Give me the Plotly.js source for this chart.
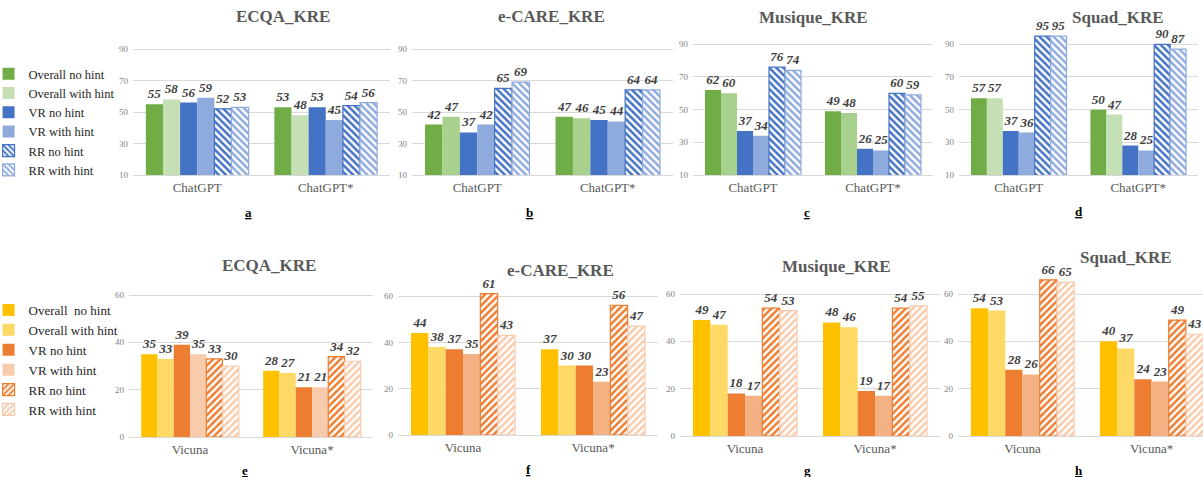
<!DOCTYPE html>
<html><head><meta charset="utf-8">
<script src="https://cdn.plot.ly/plotly-3.0.1.min.js"></script>
<style>html,body{margin:0;padding:0;background:#fff}</style>
</head><body><div id="chart" style="width:1203px;height:477px"></div>
<script>
// ---------- DATA ----------
const seriesChatGPT = ['Overall no hint','Overall with hint','VR no hint','VR with hint','RR no hint','RR with hint'];
const seriesVicuna  = ['Overall  no hint','Overall with hint','VR no hint','VR with hint','RR no hint','RR with hint'];
const catsChatGPT = ['ChatGPT','ChatGPT*'];
const catsVicuna  = ['Vicuna','Vicuna*'];
const titles = ['ECQA_KRE','e-CARE_KRE','Musique_KRE','Squad_KRE'];
const letters = ['a','b','c','d','e','f','g','h'];
// each row: [ChatGPT/Vicuna, ChatGPT*/Vicuna*] for one series
const ecqaChatGPT    = [[55,53],[58,48],[56,53],[59,45],[52,54],[53,56]];
const ecareChatGPT   = [[42,47],[47,46],[37,45],[42,44],[65,64],[69,64]];
const musiqueChatGPT = [[62,49],[60,48],[37,26],[34,25],[76,60],[74,59]];
const squadChatGPT   = [[57,50],[57,47],[37,28],[36,25],[95,90],[95,87]];
const ecqaVicuna     = [[35,28],[33,27],[39,21],[35,21],[33,34],[30,32]];
const ecareVicuna    = [[44,37],[38,30],[37,30],[35,23],[61,56],[43,47]];
const musiqueVicuna  = [[49,48],[47,46],[18,19],[17,17],[54,54],[53,55]];
const squadVicuna    = [[54,40],[53,37],[28,24],[26,23],[66,49],[65,43]];

// ---------- STYLE / LAYOUT ----------
const W = 1203, H = 477;
const SERIF = '"Liberation Serif", "Times New Roman", serif';
const green = ['#70ad47','#c5e0b4','#4472c4','#8faadc','#4472c4','#8faadc'];
const green2 = ['#70ad47','#a9d18e','#4472c4','#8faadc','#4472c4','#8faadc'];
const orange = ['#ffc000','#ffd966','#ed7d31','#f8cbad','#ed7d31','#f8cbad'];
const orange2 = ['#ffc000','#ffd966','#ed7d31','#f4b183','#ed7d31','#f8cbad'];

const panels = [
  {data: ecqaChatGPT,    cats: catsChatGPT, names: seriesChatGPT, x:[133,390], y:[175,25.4], yr:[10,105], t0:10, colors: green,  pat:'\\', title: titles[0], tx:283, ty:17, lx:248, ly:212, legend:'legend'},
  {data: ecareChatGPT,   cats: catsChatGPT, names: seriesChatGPT, x:[412,673], y:[175,25.4], yr:[10,105], t0:10, colors: green2, pat:'\\', title: titles[1], tx:551, ty:17, lx:529, ly:212},
  {data: musiqueChatGPT, cats: catsChatGPT, names: seriesChatGPT, x:[693,933], y:[175,19.8], yr:[10,105], t0:10, colors: green2, pat:'\\', title: titles[2], tx:813, ty:18, lx:807, ly:212},
  {data: squadChatGPT,   cats: catsChatGPT, names: seriesChatGPT, x:[959,1198], y:[175,19.8], yr:[10,105], t0:10, colors: green, pat:'\\', title: titles[3], tx:1118, ty:18, lx:1079, ly:211},
  {data: ecqaVicuna,     cats: catsVicuna,  names: seriesVicuna, x:[129,373], y:[437,259.5], yr:[0,75], t0:0, colors: orange,  pat:'/', title: titles[0], tx:269, ty:265, lx:245, ly:470, legend:'legend2'},
  {data: ecareVicuna,    cats: catsVicuna,  names: seriesVicuna, x:[398,658], y:[435,261.3], yr:[0,75], t0:0, colors: orange2, pat:'/', title: titles[1], tx:560, ty:270, lx:528, ly:469},
  {data: musiqueVicuna,  cats: catsVicuna,  names: seriesVicuna, x:[680,940], y:[436,258.5], yr:[0,75], t0:0, colors: orange2, pat:'/', title: titles[2], tx:836, ty:266, lx:807, ly:470},
  {data: squadVicuna,    cats: catsVicuna,  names: seriesVicuna, x:[958,1203], y:[436,258.5], yr:[0,75], t0:0, colors: orange2, pat:'/', title: titles[3], tx:1126, ty:257, lx:1079, ly:470, xr:[-0.5,1.399]}
];

const traces = [];
const layout = {
  width: W, height: H,
  margin: {l:0, r:0, t:0, b:0, autoexpand:false},
  paper_bgcolor: '#fff', plot_bgcolor: 'rgba(0,0,0,0)',
  barmode: 'group', bargap: 0.2, bargroupgap: 0,
  showlegend: true,
  font: {family: SERIF, color: '#595959'},
  annotations: [],
  legend: {x: -0.0095, xanchor: 'left', y: 1 - 59/H, yanchor: 'top',
           font: {family: SERIF, size: 12.5, color: '#262626'}, bgcolor: 'rgba(0,0,0,0)', tracegroupgap: 0},
  legend2: {x: -0.0095, xanchor: 'left', y: 1 - 295/H, yanchor: 'top',
           font: {family: SERIF, size: 13, color: '#262626'}, bgcolor: 'rgba(0,0,0,0)', tracegroupgap: 0}
};

panels.forEach((p, i) => {
  const k = i + 1;
  const xa = 'xaxis' + (k === 1 ? '' : k), ya = 'yaxis' + (k === 1 ? '' : k);
  const xr = 'x' + (k === 1 ? '' : k), yr = 'y' + (k === 1 ? '' : k);
  p.data.forEach((vals, s) => {
    const col = p.colors[s];
    const marker = {color: col, line: {color: col, width: s >= 4 ? 1.2 : 0}};
    if (s >= 4) marker.pattern = {shape: p.pat, fgcolor: col, bgcolor: '#ffffff', size: 5, solidity: 0.5, fillmode: 'replace'};
    const tr = {
      type: 'bar', x: p.cats, y: vals, name: p.names[s],
      xaxis: xr, yaxis: yr, marker: marker,
      texttemplate: '%{y}', textposition: 'outside', textangle: 0, constraintext: 'none',
      textfont: {family: SERIF, size: 13, weight: 'bold', style: 'italic', color: '#404040'},
      hoverinfo: 'skip',
      showlegend: !!p.legend
    };
    if (p.legend) tr.legend = p.legend;
    traces.push(tr);
  });
  layout[xa] = {
    domain: [p.x[0]/W, p.x[1]/W], anchor: yr, type: 'category',
    range: p.xr || [-0.5, 1.5],
    showline: true, linecolor: '#d9d9d9', linewidth: 1, showgrid: false, ticks: '',
    tickfont: {family: SERIF, size: 13, color: '#595959'}, fixedrange: true
  };
  layout[ya] = {
    domain: [1 - p.y[0]/H, 1 - p.y[1]/H], anchor: xr, range: p.yr,
    tick0: p.t0, dtick: 20, showgrid: true, gridcolor: '#d9d9d9', gridwidth: 1,
    zeroline: false, showline: false, ticks: '', ticklabelstandoff: 4,
    tickfont: {family: SERIF, size: 9, color: '#7f7f7f'}, fixedrange: true
  };
  layout.annotations.push({
    text: '<b>' + p.title + '</b>', xref: 'paper', yref: 'paper',
    x: p.tx / W, y: 1 - p.ty / H, xanchor: 'center', yanchor: 'middle', showarrow: false,
    font: {family: SERIF, size: 17, color: '#595959'}
  });
  layout.annotations.push({
    text: '<b><u>' + letters[i] + '</u></b>', xref: 'paper', yref: 'paper',
    x: p.lx / W, y: 1 - p.ly / H, xanchor: 'center', yanchor: 'middle', showarrow: false,
    font: {family: SERIF, size: 13, color: '#000000'}
  });
});

Plotly.newPlot('chart', traces, layout, {staticPlot: true, displayModeBar: false});
</script>
</body></html>
